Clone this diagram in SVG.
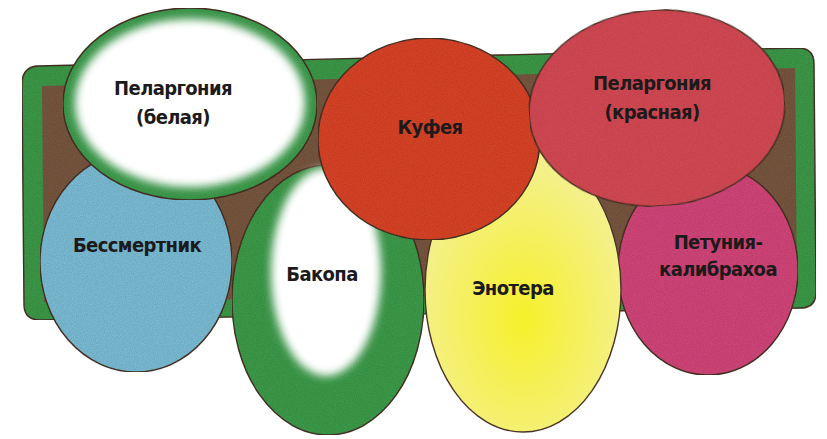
<svg xmlns="http://www.w3.org/2000/svg" width="827" height="439" viewBox="0 0 827 439">
<style>
.lbl{font-family:"Liberation Sans Narrow","DejaVu Sans Condensed","Liberation Sans",sans-serif;font-weight:bold;font-size:20px;letter-spacing:-0.6px;fill:#1c1a1a;text-anchor:middle}
.edge{stroke:#4a3528;stroke-width:1.4}
</style>
<defs>
<filter id="blur" x="-20%" y="-20%" width="140%" height="140%"><feGaussianBlur stdDeviation="4"/></filter>
<filter id="grain" x="0" y="0" width="100%" height="100%">
<feTurbulence type="fractalNoise" baseFrequency="0.9" numOctaves="2" seed="3" result="n"/>
<feColorMatrix in="n" type="matrix" values="0 0 0 0 0  0 0 0 0 0  0 0 0 0 0  0 0 0 0.35 0" result="a"/>
<feComposite in="a" in2="SourceGraphic" operator="in" result="b"/>
<feMerge><feMergeNode in="SourceGraphic"/><feMergeNode in="b"/></feMerge>
</filter>
<radialGradient id="yel" cx="0.5" cy="0.6" r="0.55"><stop offset="0" stop-color="#f6f02a"/><stop offset="1" stop-color="#f4f08c"/></radialGradient>
</defs>
<rect width="827" height="439" fill="#ffffff"/>
<g id="planter" filter="url(#grain)">
<path d="M38 66 L798 48 Q814 48 814 64 L816 292 Q816 308 800 308 L40 320 Q24 320 24 304 L22 84 Q22 67 38 66 Z" fill="#3f9e4c" class="edge"/>
<path d="M42 86 L795 68 L797 292 L44 302 Z" fill="#7b5a43"/>
</g>
<g id="bessmertnik">
<ellipse cx="136" cy="262" rx="96" ry="110" fill="#7fc3dc" class="edge" filter="url(#grain)"/>
<text class="lbl" x="137" y="252">Бессмертник</text>
</g>
<g id="petunia">
<ellipse cx="708" cy="270" rx="90" ry="105" fill="#d9497e" class="edge" filter="url(#grain)"/>
<text class="lbl" x="718" y="249">Петуния-</text>
<text class="lbl" x="718" y="276">калибрахоа</text>
</g>
<g id="enotera">
<ellipse cx="523" cy="290" rx="98" ry="142" fill="url(#yel)" class="edge"/>
<text class="lbl" x="513" y="295">Энотера</text>
</g>
<g id="bakopa">
<ellipse cx="328" cy="300" rx="96" ry="135" fill="#3fa04e" class="edge" filter="url(#grain)"/>
<ellipse cx="326" cy="272" rx="55" ry="104" fill="#ffffff" filter="url(#blur)"/>
<text class="lbl" x="322" y="281">Бакопа</text>
</g>
<g id="pelargonia-white">
<ellipse cx="190" cy="104" rx="127" ry="96" fill="#41a150" class="edge" filter="url(#grain)"/>
<ellipse cx="190" cy="103" rx="115" ry="84" fill="#ffffff" filter="url(#blur)"/>
<text class="lbl" x="173" y="95">Пеларгония</text>
<text class="lbl" x="173" y="124">(белая)</text>
</g>
<g id="kufeya">
<ellipse cx="429" cy="139" rx="111" ry="101" fill="#e0472c" class="edge" filter="url(#grain)"/>
<text class="lbl" x="430" y="134">Куфея</text>
</g>
<g id="pelargonia-red">
<ellipse cx="657" cy="108" rx="128" ry="98" transform="rotate(-4 657 108)" fill="#dc4d58" class="edge" filter="url(#grain)"/>
<text class="lbl" x="652" y="90">Пеларгония</text>
<text class="lbl" x="652" y="119">(красная)</text>
</g>
</svg>
